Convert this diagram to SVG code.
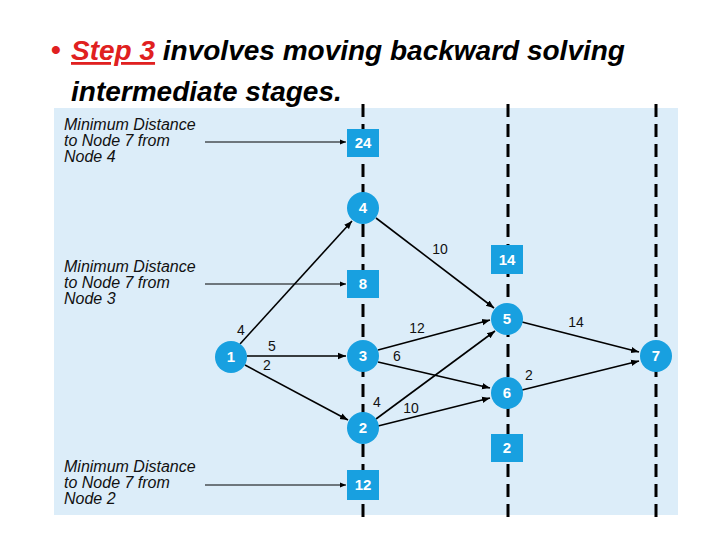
<svg xmlns="http://www.w3.org/2000/svg" width="720" height="540" viewBox="0 0 720 540">
<defs>
<style>
.title{font-family:"Liberation Sans",Arial,sans-serif;font-size:28px;font-weight:bold;font-style:italic;fill:#000}
.lbl{font-family:"Liberation Sans",Arial,sans-serif;font-size:16px;font-style:italic;fill:#111}
.w{font-family:"Liberation Sans",Arial,sans-serif;font-size:15px;font-weight:bold;fill:#fff;text-anchor:middle}
.el{font-family:"Liberation Sans",Arial,sans-serif;font-size:14px;fill:#111;text-anchor:middle}
.node{fill:#18a0e0}
.dash{stroke:#000;stroke-width:3;stroke-dasharray:13,7;fill:none}
.edge{stroke:#000;stroke-width:1.6;fill:none;marker-end:url(#ah)}
.ptr{stroke:#000;stroke-width:1;fill:none;marker-end:url(#ah2)}
</style>
<marker id="ah" viewBox="0 0 10 10" refX="10" refY="5" markerWidth="8" markerHeight="8" markerUnits="userSpaceOnUse" orient="auto"><path d="M0,1 L10,5 L0,9 z" fill="#000"/></marker>
<marker id="ah2" viewBox="0 0 10 10" refX="10" refY="5" markerWidth="7" markerHeight="6" markerUnits="userSpaceOnUse" orient="auto"><path d="M0,1 L10,5 L0,9 z" fill="#000"/></marker>
</defs>
<rect width="720" height="540" fill="#fff"/>
<g id="title">
<text x="51" y="59" class="title" style="fill:#e02020;font-style:normal">•</text>
<text x="71" y="60" class="title"><tspan fill="#e02020" text-decoration="underline">Step 3</tspan> involves moving backward solving</text>
<text x="71" y="101" class="title">intermediate stages.</text>
</g>
<rect x="54" y="108" width="624" height="407" fill="#dcedf9"/>
<g id="dividers">
<line x1="363" y1="104" x2="363" y2="520" class="dash"/>
<line x1="508" y1="104" x2="508" y2="520" class="dash"/>
<line x1="656" y1="104" x2="656" y2="520" class="dash"/>
</g>
<g id="labels">
<text class="lbl"><tspan x="64" y="130">Minimum Distance</tspan><tspan x="64" y="146">to Node 7 from</tspan><tspan x="64" y="162">Node 4</tspan></text>
<text class="lbl"><tspan x="64" y="272">Minimum Distance</tspan><tspan x="64" y="288">to Node 7 from</tspan><tspan x="64" y="304">Node 3</tspan></text>
<text class="lbl"><tspan x="64" y="472">Minimum Distance</tspan><tspan x="64" y="488">to Node 7 from</tspan><tspan x="64" y="504">Node 2</tspan></text>
</g>
<g id="connectors">
<line x1="205" y1="142" x2="346" y2="142" class="ptr"/>
<line x1="205" y1="284" x2="346" y2="284" class="ptr"/>
<line x1="205" y1="485" x2="346" y2="485" class="ptr"/>
<line x1="240" y1="344" x2="352" y2="221" class="edge"/>
<line x1="247" y1="356" x2="346" y2="356" class="edge"/>
<line x1="245" y1="365" x2="348" y2="420" class="edge"/>
<line x1="376" y1="218" x2="494" y2="308" class="edge"/>
<line x1="378" y1="350" x2="490" y2="320" class="edge"/>
<line x1="378" y1="362" x2="490" y2="388" class="edge"/>
<line x1="376" y1="419" x2="495" y2="331" class="edge"/>
<line x1="378" y1="426" x2="490" y2="398" class="edge"/>
<line x1="522" y1="322" x2="639" y2="352" class="edge"/>
<line x1="522" y1="390" x2="639" y2="361" class="edge"/>
</g>
<g id="edge-labels">
<text x="440" y="254" class="el">10</text>
<text x="241" y="335" class="el">4</text>
<text x="272" y="351" class="el">5</text>
<text x="267" y="370" class="el">2</text>
<text x="417" y="333" class="el">12</text>
<text x="397" y="361" class="el">6</text>
<text x="377" y="407" class="el">4</text>
<text x="411" y="413" class="el">10</text>
<text x="576" y="327" class="el">14</text>
<text x="529" y="380" class="el">2</text>
</g>
<g id="node1"><circle cx="231" cy="357" r="16" class="node"/><text x="231" y="362" class="w">1</text></g>
<g id="node4"><circle cx="363" cy="208" r="16" class="node"/><text x="363" y="213" class="w">4</text></g>
<g id="node3"><circle cx="363" cy="356" r="16" class="node"/><text x="363" y="361" class="w">3</text></g>
<g id="node2"><circle cx="363" cy="428" r="16" class="node"/><text x="363" y="433" class="w">2</text></g>
<g id="node5"><circle cx="507" cy="319" r="16" class="node"/><text x="507" y="324" class="w">5</text></g>
<g id="node6"><circle cx="507" cy="393" r="16" class="node"/><text x="507" y="398" class="w">6</text></g>
<g id="node7"><circle cx="656" cy="356" r="16" class="node"/><text x="656" y="361" class="w">7</text></g>
<g id="box24"><rect x="347" y="129" width="32" height="28" class="node"/><text x="363" y="148" class="w">24</text></g>
<g id="box8"><rect x="347" y="270" width="32" height="28" class="node"/><text x="363" y="289" class="w">8</text></g>
<g id="box14"><rect x="491" y="245" width="32" height="29" class="node"/><text x="507" y="265" class="w">14</text></g>
<g id="box2"><rect x="491" y="434" width="32" height="28" class="node"/><text x="507" y="453" class="w">2</text></g>
<g id="box12"><rect x="347" y="470" width="32" height="30" class="node"/><text x="363" y="490" class="w">12</text></g>
</svg>
